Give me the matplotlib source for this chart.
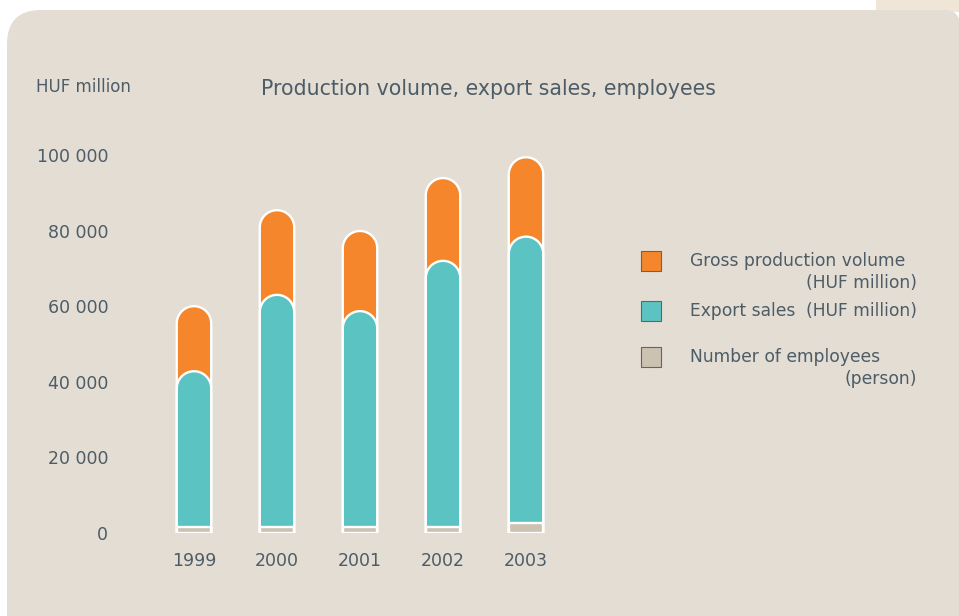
import matplotlib.pyplot as plt
import numpy as np
from matplotlib.path import Path
from matplotlib.patches import PathPatch, FancyBboxPatch, Rectangle
from matplotlib.ticker import FuncFormatter

years = ['1999', '2000', '2001', '2002', '2003']
gross_production = [60000, 85400, 79900, 93900, 99400]
export_sales = [42800, 63000, 58700, 72000, 78400]
employees = [1600, 1700, 1700, 1700, 2600]

ORANGE = '#f5862b'
TEAL = '#5bc4c3'
GREY = '#cbc2b2'
PANEL = '#e3ddd4'
TEXT = '#4d5c66'

W, H = 959, 616
fig = plt.figure(figsize=(W / 100, H / 100), dpi=100, facecolor='white')

# background panel (pixel coords, origin bottom-left)
fig.patches.append(Rectangle((876, H - 12), 90, 14, transform=None,
                             facecolor='#efe6d7', edgecolor='none', zorder=-3))
fig.patches.append(FancyBboxPatch((7, -60), 600, H - 10 + 60, transform=None,
                                  boxstyle='round,pad=0,rounding_size=34',
                                  facecolor=PANEL, edgecolor='none', zorder=-2))
fig.patches.append(FancyBboxPatch((300, -60), 660, H - 10 + 60, transform=None,
                                  boxstyle='round,pad=0,rounding_size=16',
                                  facecolor=PANEL, edgecolor='none', zorder=-1))

ax_l, ax_r, ax_b, ax_t = 150, 570, 533, 155
ax = fig.add_axes([ax_l / W, (H - ax_b) / H, (ax_r - ax_l) / W, (ax_b - ax_t) / H])
ax.set_zorder(2)
ax.set_facecolor('none')
ax.set_xlim(-0.53, 4.53)
ax.set_ylim(0, 100000)
for s in ax.spines.values():
    s.set_visible(False)

px_x = (ax_r - ax_l) / 5.06
px_y = (ax_b - ax_t) / 100000.0


def rounded_bar(cx, width, height, rounded=True):
    hw = width / 2
    ry = hw * px_x / px_y
    if not rounded or height < ry:
        verts = [(cx - hw, 0), (cx - hw, height), (cx + hw, height), (cx + hw, 0), (cx - hw, 0)]
        return Path(verts, closed=True)
    t = np.linspace(np.pi, 0, 40)
    arc = np.column_stack([cx + hw * np.cos(t), height - ry + ry * np.sin(t)])
    verts = [(cx - hw, 0)] + [tuple(p) for p in arc] + [(cx + hw, 0), (cx - hw, 0)]
    return Path(verts, closed=True)


x = np.arange(len(years))
bw = 0.415
for i in x:
    for val, col, rnd in ((gross_production[i], ORANGE, True),
                          (export_sales[i], TEAL, True),
                          (employees[i], GREY, False)):
        ax.add_patch(PathPatch(rounded_bar(i, bw, val, rnd), facecolor=col,
                               edgecolor='white', lw=1.7, joinstyle='round', zorder=3))

ax.set_xticks(x)
ax.set_xticklabels(years)
ax.set_yticks(np.arange(0, 100001, 20000))
ax.yaxis.set_major_formatter(FuncFormatter(lambda v, p: f'{int(v):,}'.replace(',', ' ')))
ax.tick_params(length=0, colors=TEXT, labelsize=12.5)
ax.tick_params(axis='y', pad=30)
ax.tick_params(axis='x', pad=14)

fig.text(36 / W, 1 - 87 / H, 'HUF million', color=TEXT, fontsize=12, va='center')
fig.text(261 / W, 1 - 89 / H, 'Production volume, export sales, employees',
         color=TEXT, fontsize=14.8, va='center')

# legend
leg = [(ORANGE, 261, 'Gross production volume', '(HUF million)', 22),
       (TEAL, 311, 'Export sales', '(HUF million)', 0),
       (GREY, 357, 'Number of employees', '(person)', 22)]
for col, yc, line1, line2, dy in leg:
    fig.patches.append(Rectangle((641, H - yc - 10), 20, 20, transform=None,
                                 facecolor=col, edgecolor='#6b625a', lw=0.8, zorder=3))
    fig.text(690 / W, 1 - yc / H, line1, color=TEXT, fontsize=12.3, va='center')
    fig.text(917 / W, 1 - (yc + dy) / H, line2, color=TEXT, fontsize=12.3,
             va='center', ha='right')

fig.savefig('out.png', dpi=100, facecolor='white')
